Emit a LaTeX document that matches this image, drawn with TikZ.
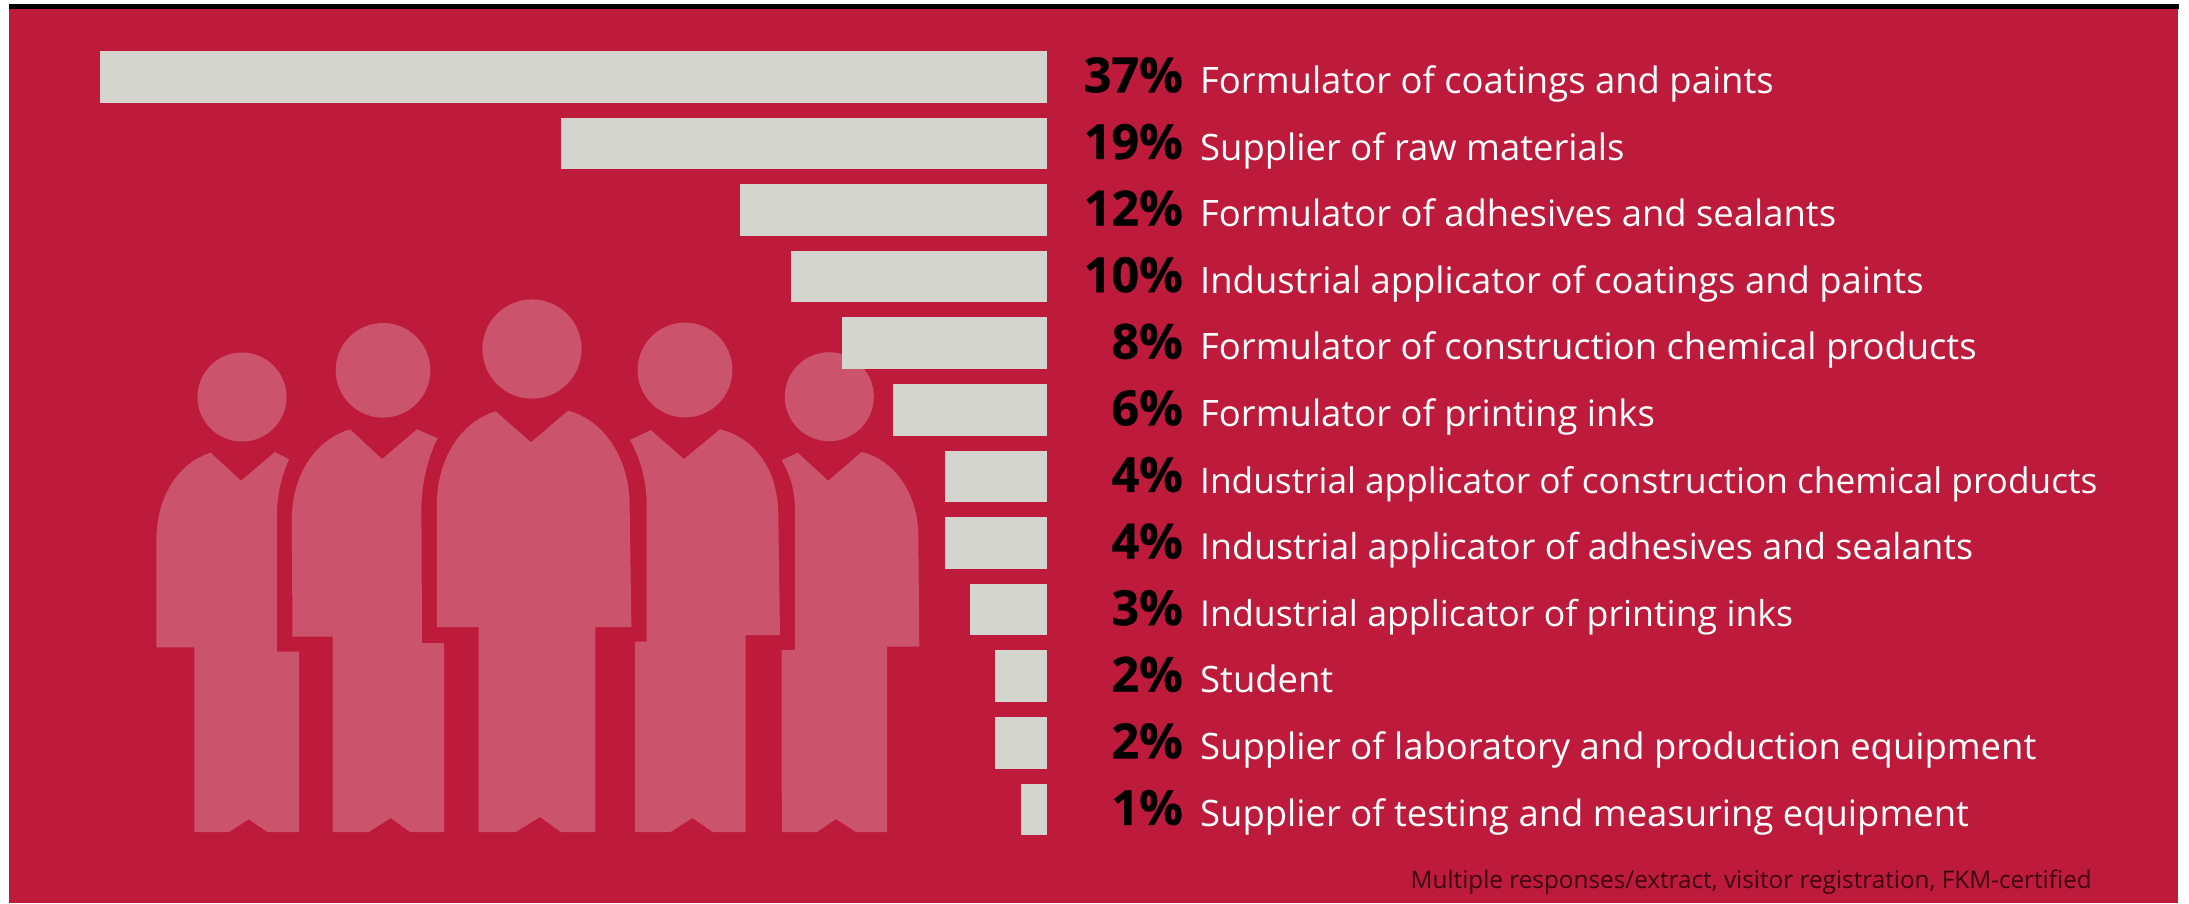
\documentclass[tikz,border=0pt]{standalone}
\usepackage{fontspec}
\setmainfont{Open Sans}
\newfontfamily\pctfont[FakeBold=0.6]{Open Sans Bold}
\definecolor{bgred}{HTML}{BE1A3B}
\definecolor{figpink}{HTML}{CB536B}
\definecolor{barcol}{HTML}{D5D5D0}
\definecolor{notecol}{HTML}{3A0410}
\tikzset{
  person/.style={fill=figpink,draw=none},
  barbox/.style={fill=barcol,draw=none},
  pct/.style={anchor=base east,inner sep=0pt,text=black,font=\pctfont\fontsize{48.5}{50}\selectfont},
  lab/.style={anchor=base west,inner sep=0pt,text=white},
  note/.style={anchor=base east,inner sep=0pt,text=notecol,font=\fontsize{24.3}{28}\selectfont}
}
\begin{document}
\begin{tikzpicture}[x=1pt,y=-1pt]
\useasboundingbox (0,0) rectangle (2189,903);
\fill[white] (0,0) rectangle (2189,903);
\fill[bgred] (9,5) rectangle (2178,903);
\fill[black] (9,4) rectangle (2179,9);
% figure 1
\fill[person] (242,397) circle (44.5);
\fill[person] (156.4,647.3) -- (156.4,540) .. controls (156.4,495) and (180,462) .. (210.7,452.7)
  -- (241,480.7) -- (275,452) -- (289,459.3) .. controls (280,480) and (276.8,497) .. (276.8,520)
  -- (276.8,651.7) -- (299,651.7) -- (299,832) -- (267.3,832) -- (248.7,819.3) -- (229,832) -- (194.3,832) -- (194.3,647.3) -- cycle;
% figure 2
\fill[person] (383,370.3) circle (47.3);
\fill[person] (292.5,636.5) -- (291.8,520) .. controls (291.8,475) and (315,440) .. (350,429.3)
  -- (382,459) -- (417,429.3) -- (437.5,438.3) .. controls (427,460) and (421.4,485) .. (421.4,510)
  -- (422,643) -- (444,643) -- (444,832) -- (410,832) -- (390.7,818) -- (368.8,832) -- (332.6,832) -- (332.6,636.5) -- cycle;
% figure 3
\fill[person] (532,349) circle (49.6);
\fill[person] (436.8,627) -- (436.8,505) .. controls (436.8,460) and (460,422) .. (495.7,411.3)
  -- (531,442.3) -- (567.9,410.7) .. controls (605,420) and (629.6,460) .. (629.6,505)
  -- (631.4,627) -- (595.3,627) -- (595.3,832) -- (560.8,832) -- (540,817) -- (515.8,832) -- (478.5,832) -- (478.5,627) -- cycle;
% figure 4
\fill[person] (685,370) circle (47.4);
\fill[person] (633.3,641.7) -- (646.7,641.7) -- (646.7,505) .. controls (646.7,480) and (640,458) .. (630,440)
  -- (650.7,430) -- (684,459) -- (720,429.3) .. controls (755,438) and (778.3,470) .. (778.3,515)
  -- (780,635) -- (745.6,635) -- (745.6,832) -- (712.7,832) -- (692.4,818) -- (670.5,832) -- (635,832) -- (635,641.7) -- cycle;
% figure 5
\fill[person] (829.3,396.7) circle (44.5);
\fill[person] (781.5,650) -- (795,650) -- (795,510) .. controls (795,490) and (790,475) .. (781.7,460)
  -- (797.7,452.7) -- (828.3,480.7) -- (861.7,452) .. controls (895,460) and (918.3,495) .. (918.3,535)
  -- (919.3,646.7) -- (887,646.7) -- (887,832) -- (855.9,832) -- (836,819) -- (817,832) -- (781.8,832) -- cycle;
% bars and labels
\foreach \i/\xl/\p/\fs/\t in {
 0/100/37/36.4/Formulator of coatings and paints,
 1/561/19/36.4/Supplier of raw materials,
 2/740/12/36.4/Formulator of adhesives and sealants,
 3/791/10/36.4/Industrial applicator of coatings and paints,
 4/842/8/36.4/Formulator of construction chemical products,
 5/893/6/36.4/Formulator of printing inks,
 6/945/4/35.25/Industrial applicator of construction chemical products,
 7/945/4/35.8/Industrial applicator of adhesives and sealants,
 8/970/3/35.7/Industrial applicator of printing inks,
 9/995/2/36.4/Student,
 10/995/2/36.4/Supplier of laboratory and production equipment,
 11/1021/1/36.4/Supplier of testing and measuring equipment}{
  \pgfmathsetmacro{\yt}{51+66.6*\i}
  \fill[barbox] (\xl,\yt) rectangle (1047,\yt+51.5);
  \node[pct] (p\i) at (1183,\yt+41.3) {\p\%};
  \node[lab,font=\fontsize{\fs}{40}\selectfont] (l\i) at (1200,\yt+42.4) {\t};
}
\node[note] (n) at (2092,888) {Multiple responses/extract, visitor registration, FKM-certified};
\end{tikzpicture}
\end{document}
